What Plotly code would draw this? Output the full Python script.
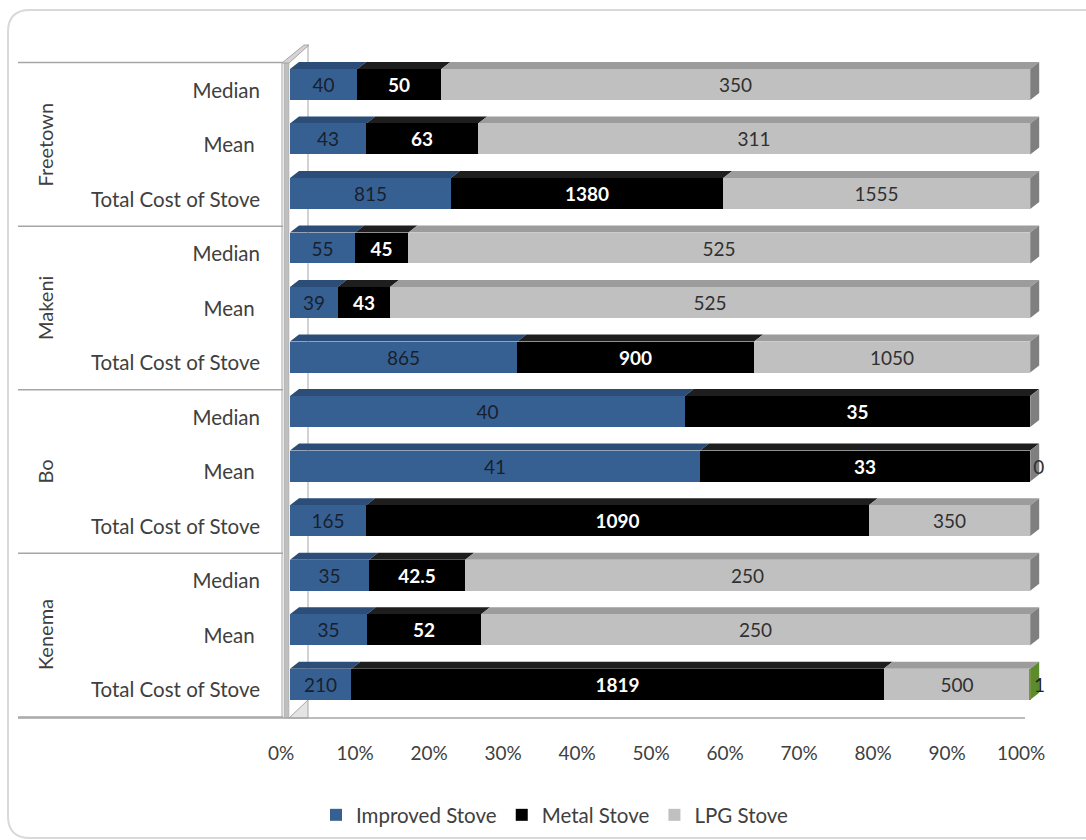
import numpy as np
import plotly.graph_objects as go

# ---- data -------------------------------------------------------------
cities = ["Freetown", "Makeni", "Bo", "Kenema"]
measures = ["Median", "Mean\u00a0", "Total Cost of Stove"]

improved = [40, 43, 815, 55, 39, 865, 40, 41, 165, 35, 35, 210]
metal = [50, 63, 1380, 45, 43, 900, 35, 33, 1090, 42.5, 52, 1819]
lpg = [350, 311, 1555, 525, 525, 1050, 0, 0, 350, 250, 250, 500]
other = [None] * 11 + [1]

series_names = ["Improved Stove", "Metal Stove", "LPG Stove", "Other"]
tick_pct = list(range(0, 101, 10))

# ---- derived values ----------------------------------------------------
rows = np.arange(len(improved))
vals = np.array([improved, metal, lpg,
                 [0 if v is None else v for v in other]], dtype=float)
totals = vals.sum(axis=0)
pct = vals / totals * 100
cum_end = np.cumsum(pct, axis=0)
cum_start = cum_end - pct

# ---- styling -----------------------------------------------------------
FONT = "Lato"
TXT = "#404040"
front = ["#376092", "#000000", "#c0c0c0", "#77933c"]
topc = ["#2b4d78", "#1e1e1e", "#9c9c9c", "#5b7a2a"]
endc = ["#2b4d78", "#7f7f7f", "#7f7f7f", "#5b8b2c"]
label_col = ["#17202e", "#ffffff", "#303030", "#202020"]
label_bold = [False, True, False, False]

W, H = 1086, 840
ML, MR, MT, MB = 290, 41, 45, 122
PW, PH = W - ML - MR, H - MT - MB
XMAX = 102
BAR_W = 0.568
DX = 9 / (PW / XMAX)          # depth offset in % units
YR = (11.62, -0.723)
DY = 7 / (PH / (YR[0] - YR[1]))  # depth offset in row units


def px(x):
    return (x - ML) / PW


def py(y):
    return (H - MB - y) / PH


fig = go.Figure()

raw = [improved, metal, lpg, other]
for s in range(4):
    texts = []
    positions = []
    for r in rows:
        v = raw[s][r]
        if v is None:
            texts.append("")
            positions.append("none")
            continue
        texts.append(f"{v:g}")
        if s == 2 and v == 0:
            positions.append("outside" if r == 7 else "inside")
        elif s == 3:
            positions.append("outside")
        else:
            positions.append("inside")
    xs = [None if raw[s][r] is None else pct[s][r] for r in rows]
    fig.add_trace(go.Bar(
        x=xs, y=rows, orientation="h", name=series_names[s],
        width=BAR_W, marker=dict(color=front[s], line=dict(width=0)),
        text=texts, textposition=positions, insidetextanchor="middle",
        textangle=0, constraintext="none", cliponaxis=False,
        textfont=dict(family=FONT, size=19, color=label_col[s],
                      weight="bold" if label_bold[s] else "normal"),
        showlegend=(s < 3), hoverinfo="skip",
    ))

shapes = []
# top faces of every segment and the end face of each row
for r in rows:
    y0 = r - BAR_W / 2
    y1 = y0 - DY
    for s in range(4):
        a, b = cum_start[s][r], cum_end[s][r]
        if b - a <= 0:
            continue
        shapes.append(dict(
            type="path", xref="x", yref="y", layer="below",
            path=f"M{a},{y0} L{b},{y0} L{b + DX},{y1} L{a + DX},{y1} Z",
            fillcolor=topc[s], line=dict(width=0)))
    end = cum_end[3][r]
    ec = endc[3] if raw[3][r] else "#7f7f7f"
    yb = r + BAR_W / 2
    shapes.append(dict(
        type="path", xref="x", yref="y", layer="below",
        path=f"M{end},{yb} L{end},{y0} L{end + DX},{y1} L{end + DX},{yb - DY} Z",
        fillcolor=ec, line=dict(width=0)))

# side wall on the left of the bars
wall_line = dict(color="#a6a6a6", width=1)
shapes += [
    dict(type="line", xref="paper", yref="paper", layer="below",
         x0=px(282), x1=px(282), y0=py(63), y1=py(718), line=wall_line),
    dict(type="rect", xref="paper", yref="paper", layer="below",
         x0=px(284), x1=px(289), y0=py(63), y1=py(718),
         fillcolor="#bfbfbf", line=dict(color="#a6a6a6", width=0.5)),
    dict(type="path", xref="paper", yref="paper", layer="below",
         path=(f"M{px(282)},{py(63)} L{px(289)},{py(63)} "
               f"L{px(309)},{py(45)} L{px(304)},{py(45)} Z"),
         fillcolor="#d4d4d4", line=wall_line),
    dict(type="line", xref="paper", yref="paper", layer="below",
         x0=px(308), x1=px(308), y0=py(45), y1=py(700), line=wall_line),
    dict(type="path", xref="paper", yref="paper", layer="below",
         path=(f"M{px(289)},{py(718)} L{px(308)},{py(700)} "
               f"L{px(308)},{py(718)} Z"),
         fillcolor="#e4e4e4", line=wall_line),
    # floor edge
    dict(type="line", xref="paper", yref="paper", layer="below",
         x0=px(18), x1=px(1025), y0=0, y1=0,
         line=dict(color="#a6a6a6", width=1.5)),
]

# dividers of the city groups on the category axis
for g in range(len(cities) + 1):
    yv = g * 3 - 0.4
    shapes.append(dict(type="line", xref="paper", yref="y",
                       x0=px(18), x1=px(283), y0=yv, y1=yv,
                       line=dict(color="#a6a6a6", width=1.5)))

# rounded outer frame
R = 22
x0f, x1f, y0f, y1f = 8, 1100, 10, 838
frame_path = (
    f"M{px(x0f + R)},{py(y0f)} L{px(x1f)},{py(y0f)} "
    f"M{px(x1f)},{py(y1f)} L{px(x0f + R)},{py(y1f)} "
    f"Q{px(x0f)},{py(y1f)} {px(x0f)},{py(y1f - R)} "
    f"L{px(x0f)},{py(y0f + R)} "
    f"Q{px(x0f)},{py(y0f)} {px(x0f + R)},{py(y0f)}"
)
shapes.append(dict(type="path", xref="paper", yref="paper", layer="below",
                   path=frame_path, line=dict(color="#d9d9d9", width=2)))

annotations = []
for g, city in enumerate(cities):
    annotations.append(dict(
        x=px(45), xref="paper", y=g * 3 + 1.1, yref="y",
        text=city, textangle=-90, showarrow=False,
        font=dict(family=FONT, size=20, color=TXT),
        xanchor="center", yanchor="middle"))

fig.update_layout(
    width=W, height=H,
    margin=dict(l=ML, r=MR, t=MT, b=MB, autoexpand=False),
    paper_bgcolor="white", plot_bgcolor="rgba(0,0,0,0)",
    barmode="stack", bargap=0,
    font=dict(family=FONT, color=TXT),
    shapes=shapes, annotations=annotations,
    xaxis=dict(range=[0, XMAX], tickvals=tick_pct,
               ticktext=[f"{t}%" for t in tick_pct],
               showgrid=False, zeroline=False, showline=False, ticks="",
               ticklabelstandoff=22, ticklabelshift=-9,
               tickfont=dict(family=FONT, size=19, color=TXT)),
    yaxis=dict(range=list(YR), tickvals=list(rows),
               ticktext=measures * len(cities),
               showgrid=False, zeroline=False, showline=False, ticks="",
               ticklabelstandoff=29, ticklabelshift=-6,
               tickfont=dict(family=FONT, size=20.5, color=TXT)),
    legend=dict(orientation="h", traceorder="normal",
                x=px(316), xanchor="left",
                y=py(815), yanchor="middle",
                font=dict(family=FONT, size=20.5, color=TXT),
                bgcolor="rgba(0,0,0,0)"),
)

fig.write_html("out.html")
